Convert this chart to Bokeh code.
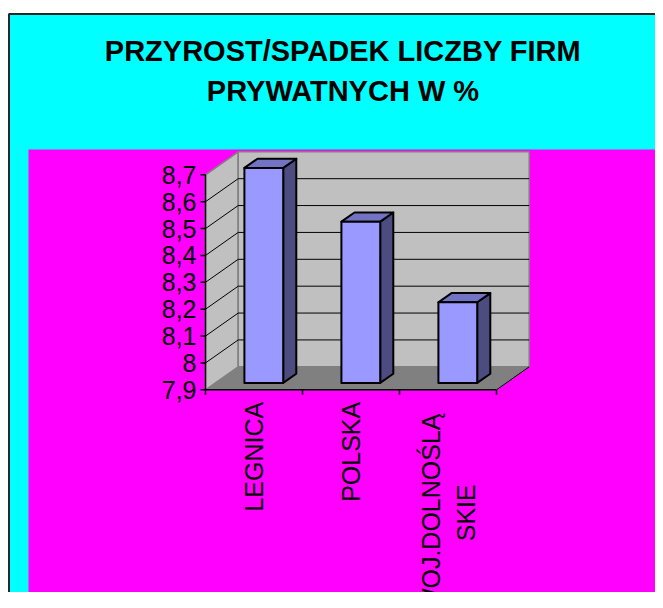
import numpy as np
from bokeh.plotting import figure
from bokeh.models import Range1d
from bokeh.core.properties import value
from bokeh.embed import file_html
from bokeh.resources import INLINE

# ---------------- data ----------------
title_text = "PRZYROST/SPADEK LICZBY FIRM\nPRYWATNYCH W %"
categories = ["LEGNICA", "POLSKA", "WOJ.DOLNOŚLĄ\nSKIE"]
values = [8.7, 8.5, 8.2]
y_ticks = [7.9, 8.0, 8.1, 8.2, 8.3, 8.4, 8.5, 8.6, 8.7]
y_tick_labels = ["7,9", "8", "8,1", "8,2", "8,3", "8,4", "8,5", "8,6", "8,7"]

# ---------------- layout (pixels) ----------------
W, H = 655, 592
AX_X = 205.0      # canvas x of the front-left corner of the floor
AX_Y = 389.3      # canvas y of the front floor edge (axis minimum)
CAT_PX = 97.0     # pixels per category
VAL_PX = 268.75   # pixels per value unit
vmin, vmax = y_ticks[0], y_ticks[-1]
n = len(categories)

x_start = -AX_X / CAT_PX
x_end = (W - AX_X) / CAT_PX
y_end = vmin + AX_Y / VAL_PX
y_start = vmin - (H - AX_Y) / VAL_PX


def X(px):
    return x_start + px / CAT_PX


def Y(py):
    return y_end - py / VAL_PX


DX = 32.7 / CAT_PX   # depth vector of the 3D box (data units)
DY = 23.0 / VAL_PX

FONT = value("Liberation Sans")
CYAN = "#00FFFF"
MAGENTA = "#FF00FF"

p = figure(width=W, height=H, x_range=Range1d(x_start, x_end),
           y_range=Range1d(y_start, y_end), output_backend="svg",
           toolbar_location=None, min_border=0, x_axis_location=None,
           y_axis_location=None, background_fill_color="white",
           border_fill_color="white", outline_line_color=None)
p.grid.visible = False

# chart area (cyan) with dark border, plot area (magenta)
p.quad(left=[X(9)], right=[X(W)], top=[Y(14)], bottom=[Y(H)],
       fill_color=CYAN, line_color=None)
p.line(x=[X(8.5), X(8.5), X(W)], y=[Y(H), Y(13.5), Y(13.5)],
       line_color="#262626", line_width=2)
p.quad(left=[X(28)], right=[X(W)], top=[Y(149)], bottom=[Y(H)],
       fill_color=MAGENTA, line_color=None)

# floor
p.patch(x=[0, n, n + DX, DX], y=[vmin, vmin, vmin + DY, vmin + DY],
        fill_color="#808080", line_color="#808080", line_width=1)
# left wall
p.patch(x=[0, 0, DX, DX], y=[vmin, vmax, vmax + DY, vmin + DY],
        fill_color="#C0C0C0", line_color="#808080", line_width=1.5)
# back wall
p.quad(left=[DX], right=[n + DX], bottom=[vmin + DY], top=[vmax + DY],
       fill_color="#C0C0C0", line_color="#808080", line_width=1.5)

inner = y_ticks[1:-1]
p.segment(x0=[DX] * len(inner), y0=[t + DY for t in inner],
          x1=[n + DX] * len(inner), y1=[t + DY for t in inner],
          line_color="black", line_width=1)
p.segment(x0=[0] * len(inner), y0=inner,
          x1=[DX] * len(inner), y1=[t + DY for t in inner],
          line_color="black", line_width=1)
# floor right edge
p.segment(x0=[n], y0=[vmin], x1=[n + DX], y1=[vmin + DY],
          line_color="black", line_width=1)

# axes
p.segment(x0=[0], y0=[vmin], x1=[0], y1=[vmax], line_color="black", line_width=1.5)
p.segment(x0=[0], y0=[vmin], x1=[n], y1=[vmin], line_color="black", line_width=1.5)
tick_len_x = 5 / CAT_PX
tick_len_y = 5 / VAL_PX
p.segment(x0=[0] * len(y_ticks), y0=y_ticks, x1=[-tick_len_x] * len(y_ticks),
          y1=y_ticks, line_color="black", line_width=1.5)
cat_edges = list(range(n + 1))
p.segment(x0=cat_edges, y0=[vmin] * len(cat_edges), x1=cat_edges,
          y1=[vmin - tick_len_y] * len(cat_edges), line_color="black", line_width=1.5)

# 3D bars
fo, bd, bw = 0.3, 0.4, 0.4
idx = np.arange(n)
vals = np.array(values)
l = idx + (1 - bw) / 2 + fo * DX
r = idx + (1 + bw) / 2 + fo * DX
b = vmin + fo * DY
t = vals + fo * DY
bdx, bdy = bd * DX, bd * DY

side_xs = [[ri, ri + bdx, ri + bdx, ri] for ri in r]
side_ys = [[b, b + bdy, ti + bdy, ti] for ti in t]
top_xs = [[li, ri, ri + bdx, li + bdx] for li, ri in zip(l, r)]
top_ys = [[ti, ti, ti + bdy, ti + bdy] for ti in t]
p.patches(xs=side_xs, ys=side_ys, fill_color="#4C4C80", line_color="black",
          line_width=2, line_join="round")
p.patches(xs=top_xs, ys=top_ys, fill_color="#7373C4", line_color="black",
          line_width=2, line_join="round")
p.quad(left=l, right=r, bottom=[b] * n, top=t, fill_color="#9999FF",
       line_color="black", line_width=2, line_join="round")

# y tick labels
p.text(x=[0] * len(y_ticks), y=y_ticks, text=y_tick_labels, x_offset=-9,
       text_align="right", text_baseline="middle", text_font=FONT,
       text_font_size="25px", text_color="black")

# category labels (rotated)
single = [i for i, c in enumerate(categories) if "\n" not in c]
multi = [i for i, c in enumerate(categories) if "\n" in c]
p.text(x=[i + 0.5 for i in single], y=[vmin] * len(single),
       text=[categories[i] for i in single], angle=np.pi / 2, y_offset=12,
       text_align="right", text_baseline="middle", text_font=FONT,
       text_font_size="25px", text_color="black")
p.text(x=[i + 0.5 for i in multi], y=[vmin] * len(multi),
       text=[categories[i] for i in multi], angle=np.pi / 2, y_offset=123,
       text_align="center", text_baseline="middle", text_font=FONT,
       text_font_size="25px", text_color="black", text_line_height=1.25)

# title
p.text(x=[X(342.5)], y=[Y(70.5)], text=[title_text], text_align="center",
       text_baseline="middle", text_font=FONT, text_font_style="bold",
       text_font_size="29px", text_color="black", text_line_height=1.25)

open("out.html", "w").write(file_html(p, INLINE))
